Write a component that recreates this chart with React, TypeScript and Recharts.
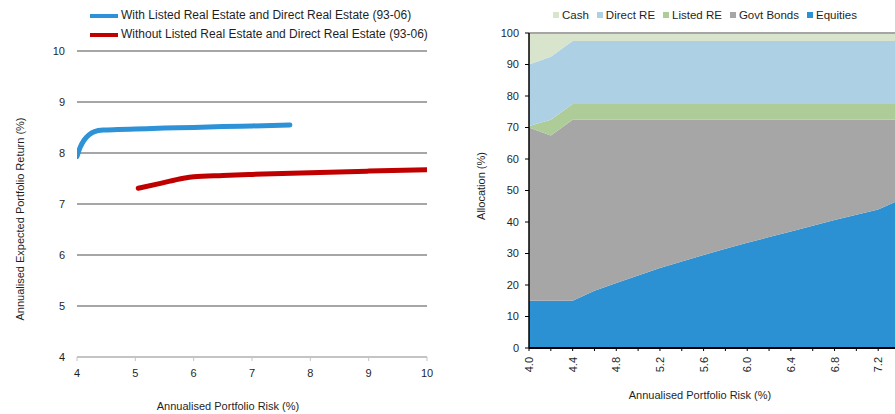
import React from "react";
import { LineChart, Line, AreaChart, Area, XAxis, YAxis, CartesianGrid, ReferenceLine } from "recharts";

// left: efficient frontiers (risk %, return %)
const withRisk = [4.0, 4.05, 4.12, 4.2, 4.3, 4.45, 4.7, 5.0, 5.5, 6.0, 6.5, 7.0, 7.65];
const withReturn = [7.93, 8.1, 8.25, 8.35, 8.42, 8.45, 8.46, 8.47, 8.49, 8.5, 8.52, 8.53, 8.55];
const withoutRisk = [5.05, 5.45, 5.8, 6.0, 6.5, 7.0, 8.0, 9.0, 10.0];
const withoutReturn = [7.31, 7.41, 7.5, 7.535, 7.56, 7.58, 7.615, 7.645, 7.67];
const returnTicks = [4, 5, 6, 7, 8, 9, 10];
const riskTicks = [4, 5, 6, 7, 8, 9, 10];

// right: allocation by risk level
const riskCats = ["4.0", "4.2", "4.4", "4.6", "4.8", "5.0", "5.2", "5.4", "5.6", "5.8", "6.0", "6.2", "6.4", "6.6", "6.8", "7.0", "7.2", "7.4"];
const equities = [15, 15, 15, 18.2, 20.6, 23, 25.4, 27.5, 29.5, 31.5, 33.4, 35.2, 37, 38.8, 40.6, 42.3, 44, 47];
const govtBonds = [55, 52.5, 57.5, 54.3, 51.9, 49.5, 47.1, 45, 43, 41, 39.1, 37.3, 35.5, 33.7, 31.9, 30.2, 28.5, 25.5];
const listedRE = [0.5, 5, 5, 5, 5, 5, 5, 5, 5, 5, 5, 5, 5, 5, 5, 5, 5, 5];
const directRE = [19.5, 20, 20, 20, 20, 20, 20, 20, 20, 20, 20, 20, 20, 20, 20, 20, 20, 20];
const cash = [10, 7.5, 2.5, 2.5, 2.5, 2.5, 2.5, 2.5, 2.5, 2.5, 2.5, 2.5, 2.5, 2.5, 2.5, 2.5, 2.5, 2.5];
const allocTicks = [0, 10, 20, 30, 40, 50, 60, 70, 80, 90, 100];

const FONT = '"Liberation Sans", Arial, sans-serif';
const TXT = "#1f1f1f";

const withData = withRisk.map((x, i) => ({ x, y: withReturn[i] }));
const withoutData = withoutRisk.map((x, i) => ({ x, y: withoutReturn[i] }));
const allocData = riskCats.map((risk, i) => ({
  risk,
  equities: equities[i],
  govtBonds: govtBonds[i],
  listedRE: listedRE[i],
  directRE: directRE[i],
  cash: cash[i],
}));

const areaSeries = [
  { key: "equities", name: "Equities", color: "#2B91D3" },
  { key: "govtBonds", name: "Govt Bonds", color: "#A6A6A6" },
  { key: "listedRE", name: "Listed RE", color: "#ADCC98" },
  { key: "directRE", name: "Direct RE", color: "#AED0E4" },
  { key: "cash", name: "Cash", color: "#D8E4CB" },
];

function RiskTick(props: any) {
  const { x, y, payload } = props;
  if (riskCats.indexOf(payload.value) % 2 !== 0) return <g />;
  return (
    <text
      x={0}
      y={0}
      transform={`translate(${x},${y}) rotate(-90)`}
      textAnchor="end"
      dominantBaseline="central"
      fontSize={11}
      fill={TXT}
    >
      {payload.value}
    </text>
  );
}

const abs = (left: number, top: number): React.CSSProperties => ({ position: "absolute", left, top });

export default function App() {
  return (
    <div style={{ position: "relative", width: 895, height: 414, overflow: "hidden", fontFamily: FONT, color: TXT, background: "#fff" }}>
      <style>{"body{margin:0}"}</style>
      {/* left chart */}
      <div style={abs(0, 0)}>
        <LineChart width={445} height={414} margin={{ top: 51, right: 18, bottom: 0, left: 0 }}>
          <CartesianGrid vertical={false} stroke="#A6A6A6" strokeWidth={2} />
          <XAxis
            dataKey="x"
            type="number"
            domain={[4, 10]}
            ticks={riskTicks}
            height={57}
            axisLine={{ stroke: "#C4C4C4", strokeWidth: 2 }}
            tickLine={{ stroke: "#C4C4C4" }}
            tickSize={4}
            tickMargin={8}
            tick={{ fontSize: 11, fill: TXT }}
            allowDataOverflow
          />
          <YAxis
            type="number"
            domain={[4, 10]}
            ticks={returnTicks}
            width={77}
            axisLine={false}
            tickLine={false}
            tickSize={0}
            tickMargin={12}
            tick={{ fontSize: 11, fill: TXT }}
          />
          <Line data={withData} dataKey="y" type="monotone" stroke="#2E93D6" strokeWidth={5} strokeLinecap="round" dot={false} isAnimationActive={false} />
          <Line data={withoutData} dataKey="y" type="monotone" stroke="#C00000" strokeWidth={5} strokeLinecap="round" dot={false} isAnimationActive={false} />
        </LineChart>
      </div>
      <div style={{ ...abs(90, 6), fontSize: 12, lineHeight: "19px" }}>
        {[
          { label: "With Listed Real Estate and Direct Real Estate (93-06)", color: "#2E93D6" },
          { label: "Without Listed Real Estate and Direct Real Estate (93-06)", color: "#C00000" },
        ].map((l) => (
          <div key={l.label} style={{ display: "flex", alignItems: "center" }}>
            <span style={{ display: "inline-block", width: 28, height: 4, background: l.color, marginRight: 3 }} />
            <span>{l.label}</span>
          </div>
        ))}
      </div>
      <div style={{ ...abs(20, 219), fontSize: 11, transform: "translate(-50%,-50%) rotate(-90deg)", whiteSpace: "nowrap" }}>
        Annualised Expected Portfolio Return (%)
      </div>
      <div style={{ ...abs(228, 406), fontSize: 11, transform: "translate(-50%,-50%)", whiteSpace: "nowrap" }}>
        Annualised Portfolio Risk (%)
      </div>

      {/* right chart */}
      <div style={abs(440, 0)}>
        <AreaChart width={460} height={414} data={allocData} margin={{ top: 33, right: 0, bottom: 0, left: 0 }}>
          <XAxis
            dataKey="risk"
            interval={0}
            height={66}
            axisLine={{ stroke: "#000", strokeWidth: 2 }}
            tickLine={{ stroke: "#000" }}
            tickSize={3}
            tickMargin={6}
            tick={<RiskTick />}
          />
          <YAxis
            domain={[0, 100]}
            ticks={allocTicks}
            width={89}
            axisLine={{ stroke: "#000", strokeWidth: 1.5 }}
            tickLine={{ stroke: "#000" }}
            tickSize={4}
            tickMargin={6}
            tick={{ fontSize: 11, fill: TXT }}
          />
          {areaSeries.map((s) => (
            <Area
              key={s.key}
              dataKey={s.key}
              name={s.name}
              stackId="alloc"
              type="linear"
              stroke="none"
              fill={s.color}
              fillOpacity={1}
              isAnimationActive={false}
            />
          ))}
          <ReferenceLine y={100} stroke="#A6A6A6" strokeWidth={2} />
        </AreaChart>
      </div>
      <div style={{ ...abs(553, 8), display: "flex", alignItems: "center", fontSize: 11.5, lineHeight: "14px" }}>
        {[...areaSeries].reverse().map((s) => (
          <div key={s.key} style={{ display: "flex", alignItems: "center", marginRight: 8 }}>
            <span style={{ display: "inline-block", width: 6, height: 6, background: s.color, marginRight: 3 }} />
            <span>{s.name}</span>
          </div>
        ))}
      </div>
      <div style={{ ...abs(481, 186), fontSize: 11, transform: "translate(-50%,-50%) rotate(-90deg)", whiteSpace: "nowrap" }}>
        Allocation (%)
      </div>
      <div style={{ ...abs(700, 395), fontSize: 11, transform: "translate(-50%,-50%)", whiteSpace: "nowrap" }}>
        Annualised Portfolio Risk (%)
      </div>
    </div>
  );
}
